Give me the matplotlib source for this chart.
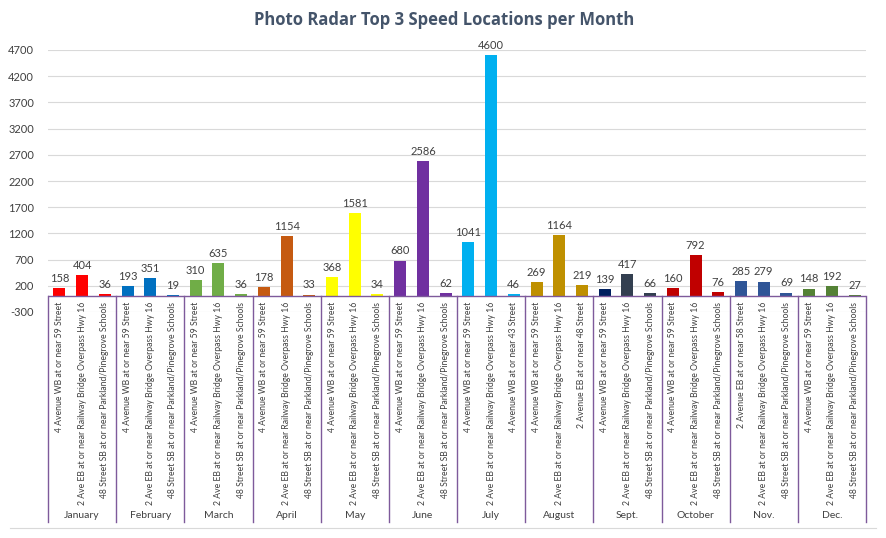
import matplotlib.pyplot as plt
from matplotlib.transforms import blended_transform_factory
from matplotlib.lines import Line2D

plt.rcParams['font.family'] = ['Lato', 'DejaVu Sans']

months = ["January", "February", "March", "April", "May", "June",
          "July", "August", "Sept.", "October", "Nov.", "Dec."]

loc_a = "4 Avenue WB at or near 59 Street"
loc_b = "2 Ave EB at or near Railway Bridge Overpass Hwy 16"
loc_c = "48 Street SB at or near Parkland/Pinegrove Schools"

locations = [
    [loc_a, loc_b, loc_c],
    [loc_a, loc_b, loc_c],
    [loc_a, loc_b, loc_c],
    [loc_a, loc_b, loc_c],
    [loc_a, loc_b, loc_c],
    [loc_a, loc_b, loc_c],
    [loc_a, loc_b, "4 Avenue WB at or near 43 Street"],
    [loc_a, loc_b, "2 Avenue EB at or near 48 Street"],
    [loc_a, loc_b, loc_c],
    [loc_a, loc_b, loc_c],
    ["2 Avenue EB at or near 58 Street", loc_b, loc_c],
    [loc_a, loc_b, loc_c],
]

counts = [
    [158, 404, 36],
    [193, 351, 19],
    [310, 635, 36],
    [178, 1154, 33],
    [368, 1581, 34],
    [680, 2586, 62],
    [1041, 4600, 46],
    [269, 1164, 219],
    [139, 417, 66],
    [160, 792, 76],
    [285, 279, 69],
    [148, 192, 27],
]

colors = [
    ["#FF0000"] * 3,
    ["#0070C0"] * 3,
    ["#70AD47"] * 3,
    ["#C55A11"] * 3,
    ["#FFFF00"] * 3,
    ["#7030A0"] * 3,
    ["#00B0F0"] * 3,
    ["#BF9000"] * 3,
    ["#002060", "#333F50", "#333F50"],
    ["#C00000"] * 3,
    ["#2F5597"] * 3,
    ["#548235"] * 3,
]

yticks = list(range(-300, 4701, 500))

fig = plt.figure(figsize=(8.86, 5.38), dpi=100)
W, H = 886, 538
ax_left, ax_right = 48 / W, 866 / W
ax_bottom, ax_top = 1 - 312 / H, 1 - 50 / H
ax = fig.add_axes([ax_left, ax_bottom, ax_right - ax_left, ax_top - ax_bottom])

ymin, ymax = -300, 4700
ax.set_ylim(ymin, ymax)
ax.set_xlim(0, 36)

for g in range(12):
    for k in range(3):
        x = g * 3 + k + 0.5
        v = counts[g][k]
        ax.bar(x, v, width=0.53, color=colors[g][k], zorder=3)
        ax.annotate(str(v), (x, v), xytext=(0, 3), textcoords="offset points",
                    ha="center", va="bottom", fontsize=8, color="#404040")

ax.set_yticks(yticks)
ax.set_yticklabels([str(t) for t in yticks], fontsize=8, color="#404040")
ax.tick_params(axis="y", length=0, pad=10)
ax.set_xticks([])
ax.grid(axis="y", color="#D9D9D9", linewidth=0.8, zorder=0)
for s in ax.spines.values():
    s.set_visible(False)

purple = "#7E5A9B"
ax.axhline(0, color=purple, linewidth=1.0, zorder=4)

# category area below the axis
trans = blended_transform_factory(ax.transData, fig.transFigure)
y_zero = ax_bottom + (0 - ymin) / (ymax - ymin) * (ax_top - ax_bottom)
y_box_bottom = 1 - 522 / H
for g in range(13):
    fig.add_artist(Line2D([g * 3, g * 3], [y_zero, y_box_bottom], transform=trans,
                          color=purple, linewidth=1.0))
for g in range(12):
    for k in range(3):
        ax.text(g * 3 + k + 0.5, 1 - 302 / H, locations[g][k], transform=trans,
                rotation=90, ha="center", va="top", fontsize=6.2, color="#404040",
                clip_on=False)
    ax.text(g * 3 + 1.5, 1 - 516 / H, months[g], transform=trans, ha="center",
            va="center", fontsize=7.5, color="#404040", clip_on=False)

fig.add_artist(Line2D([10 / W, 876 / W], [1 - 528 / H, 1 - 528 / H],
                      transform=fig.transFigure, color="#D9D9D9", linewidth=0.8))

fig.text(444 / W, 1 - 20 / H, "Photo Radar Top 3 Speed Locations per Month",
         ha="center", va="center", fontsize=12, fontweight="bold",
         color="#44546A", family=["Open Sans", "DejaVu Sans"])

fig.savefig("out.png", dpi=100)
